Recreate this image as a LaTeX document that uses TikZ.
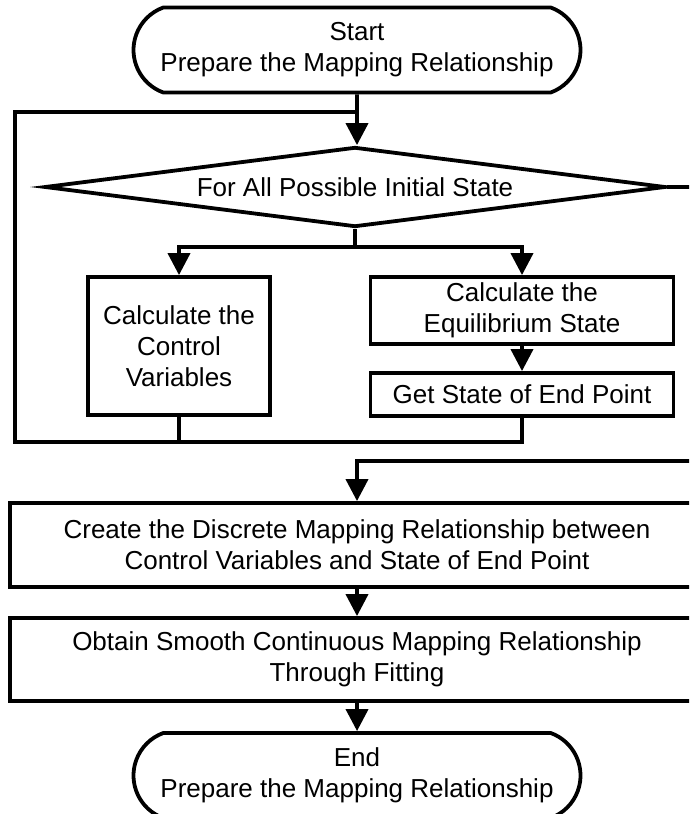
\documentclass[tikz,border=0pt]{standalone}
\usepackage{fontspec}
\setmainfont{Liberation Sans}
\usetikzlibrary{shapes.geometric}
\usetikzlibrary{shapes.misc}
\usetikzlibrary{arrows.meta}

\begin{document}
\begin{tikzpicture}[x=1pt,y=-1pt,line width=3.8pt,
  every node/.style={font=\fontsize{26}{31}\selectfont,inner sep=0pt,align=center},
  term/.style={draw,rounded rectangle,rounded rectangle arc length=140,minimum width=447pt,minimum height=85pt},
  box/.style={draw,rectangle},
  arr/.style={-{Triangle[length=22pt,width=22pt]}}]
  \clip (0,0) rectangle (689,814);
  \node[term] (start) at (357,50) {Start\\Prepare the Mapping Relationship};
  \node[draw,diamond,aspect=7.8,minimum width=621pt,minimum height=80pt] (loopdec) at (355,187) {For All Possible Initial State};
  \node[box,minimum width=182pt,minimum height=138pt] (ctrlvar) at (179,346) {Calculate the\\Control\\Variables};
  \node[box,minimum width=303pt,minimum height=67pt] (equil) at (522,310.5) {Calculate the\\Equilibrium State};
  \node[box,minimum width=303pt,minimum height=43pt] (endpt) at (522,394.5) {Get State of End Point};
  \node[box,minimum width=694pt,minimum height=84pt] (discmap) at (357,545) {Create the Discrete Mapping Relationship between\\Control Variables and State of End Point};
  \node[box,minimum width=694pt,minimum height=83pt] (smoothfit) at (357,659.5) {Obtain Smooth Continuous Mapping Relationship\\Through Fitting};
  \node[term] (finish) at (357,775.5) {End\\Prepare the Mapping Relationship};
  \coordinate (looptl) at (15,112);
  \coordinate (loopbl) at (15,442);
  \coordinate (split) at (357,247);
  \coordinate (exitr) at (705,461);
  \draw[arr] (start) -- (start |- loopdec.north);
  \draw (endpt.south) |- (loopbl) -- (looptl) -- (looptl -| start.south);
  \draw (ctrlvar.south) -- (ctrlvar.south |- loopbl);
  \draw (loopdec.south) -- (loopdec.south |- split) -- (split);
  \draw[arr] (split) -| (ctrlvar.north);
  \draw[arr] (split) -| (equil.north);
  \draw[arr] (equil) -- (endpt);
  \draw[arr] (loopdec.east) -| (exitr) -| (discmap.north);
  \draw[arr] (discmap) -- (smoothfit);
  \draw[arr] (smoothfit) -- (finish);
\end{tikzpicture}
\end{document}
